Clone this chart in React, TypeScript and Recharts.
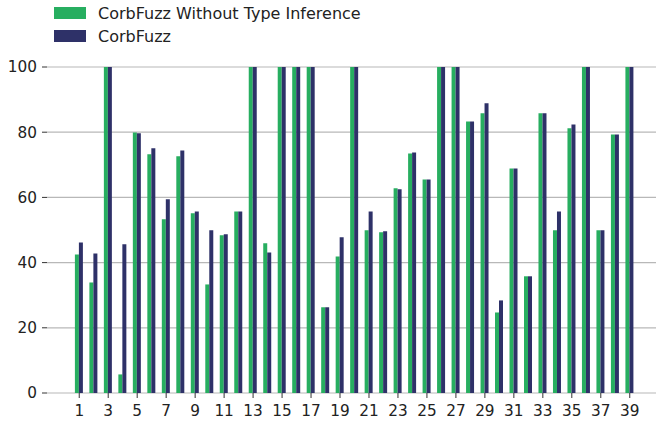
import React from 'react';
import { BarChart, Bar, XAxis, YAxis, CartesianGrid } from 'recharts';

const categories = ['1','2','3','4','5','6','7','8','9','10','11','12','13','14','15','16','17','18','19','20','21','22','23','24','25','26','27','28','29','30','31','32','33','34','35','36','37','38','39'];
const withoutTypeInference = [42.5,33.9,100,5.7,79.9,73.2,53.3,72.6,55.1,33.3,48.4,55.7,100,45.9,100,100,100,26.3,41.9,100,49.9,49.3,62.8,73.5,65.5,100,100,83.3,85.8,24.7,68.9,35.8,85.8,49.9,81.2,100,49.9,79.3,100];
const corbFuzz = [46.2,42.8,100,45.6,79.7,75.1,59.4,74.4,55.7,49.9,48.7,55.7,100,43.1,100,100,100,26.3,47.8,100,55.7,49.6,62.5,73.8,65.5,100,100,83.3,88.9,28.4,68.9,35.8,85.8,55.7,82.4,100,49.9,79.3,100];
const yTicks = [0, 20, 40, 60, 80, 100];
const seriesNames = ['CorbFuzz Without Type Inference', 'CorbFuzz'];

const GREEN = '#27ae60';
const NAVY = '#2e3168';
const FONT = 'DejaVu Sans, sans-serif';

const data = categories.map((c, i) => ({ name: c, wti: withoutTypeInference[i], cf: corbFuzz[i] }));

export default function App() {
  return (
    <div style={{ position: 'absolute', left: 0, top: 0, width: 658, height: 423, background: '#fff' }}>
      <div style={{ position: 'absolute', left: 54, top: 1.5, fontFamily: FONT, fontSize: 16, color: '#222', zIndex: 2 }}>
        {[{ label: seriesNames[0], color: GREEN }, { label: seriesNames[1], color: NAVY }].map((e) => (
          <div key={e.label} style={{ display: 'flex', alignItems: 'center', height: 23 }}>
            <div style={{ width: 32, height: 12, background: e.color, marginRight: 12 }} />
            <span>{e.label}</span>
          </div>
        ))}
      </div>
      <BarChart
        width={658}
        height={423}
        data={data}
        margin={{ top: 67, right: 2, bottom: 0, left: 0 }}
        barCategoryGap="20%"
        barGap={0}
      >
        <XAxis
          dataKey="name"
          interval={1}
          padding={{ left: 25, right: 19 }}
          axisLine={false}
          tickLine={{ stroke: '#333' }}
          tickSize={5}
          tickMargin={7}
          height={30}
          tick={{ fill: '#222', fontSize: 15.3, fontFamily: FONT }}
        />
        <YAxis
          domain={[0, 100]}
          ticks={yTicks}
          width={47}
          axisLine={false}
          tickLine={{ stroke: '#333' }}
          tickSize={5}
          tickMargin={5}
          tick={{ fill: '#222', fontSize: 15.3, fontFamily: FONT }}
        />
        <Bar dataKey="wti" name={seriesNames[0]} fill={GREEN} isAnimationActive={false} />
        <Bar dataKey="cf" name={seriesNames[1]} fill={NAVY} isAnimationActive={false} />
        <CartesianGrid vertical={false} stroke="#b8b8b8" strokeWidth={1.2} />
      </BarChart>
    </div>
  );
}
